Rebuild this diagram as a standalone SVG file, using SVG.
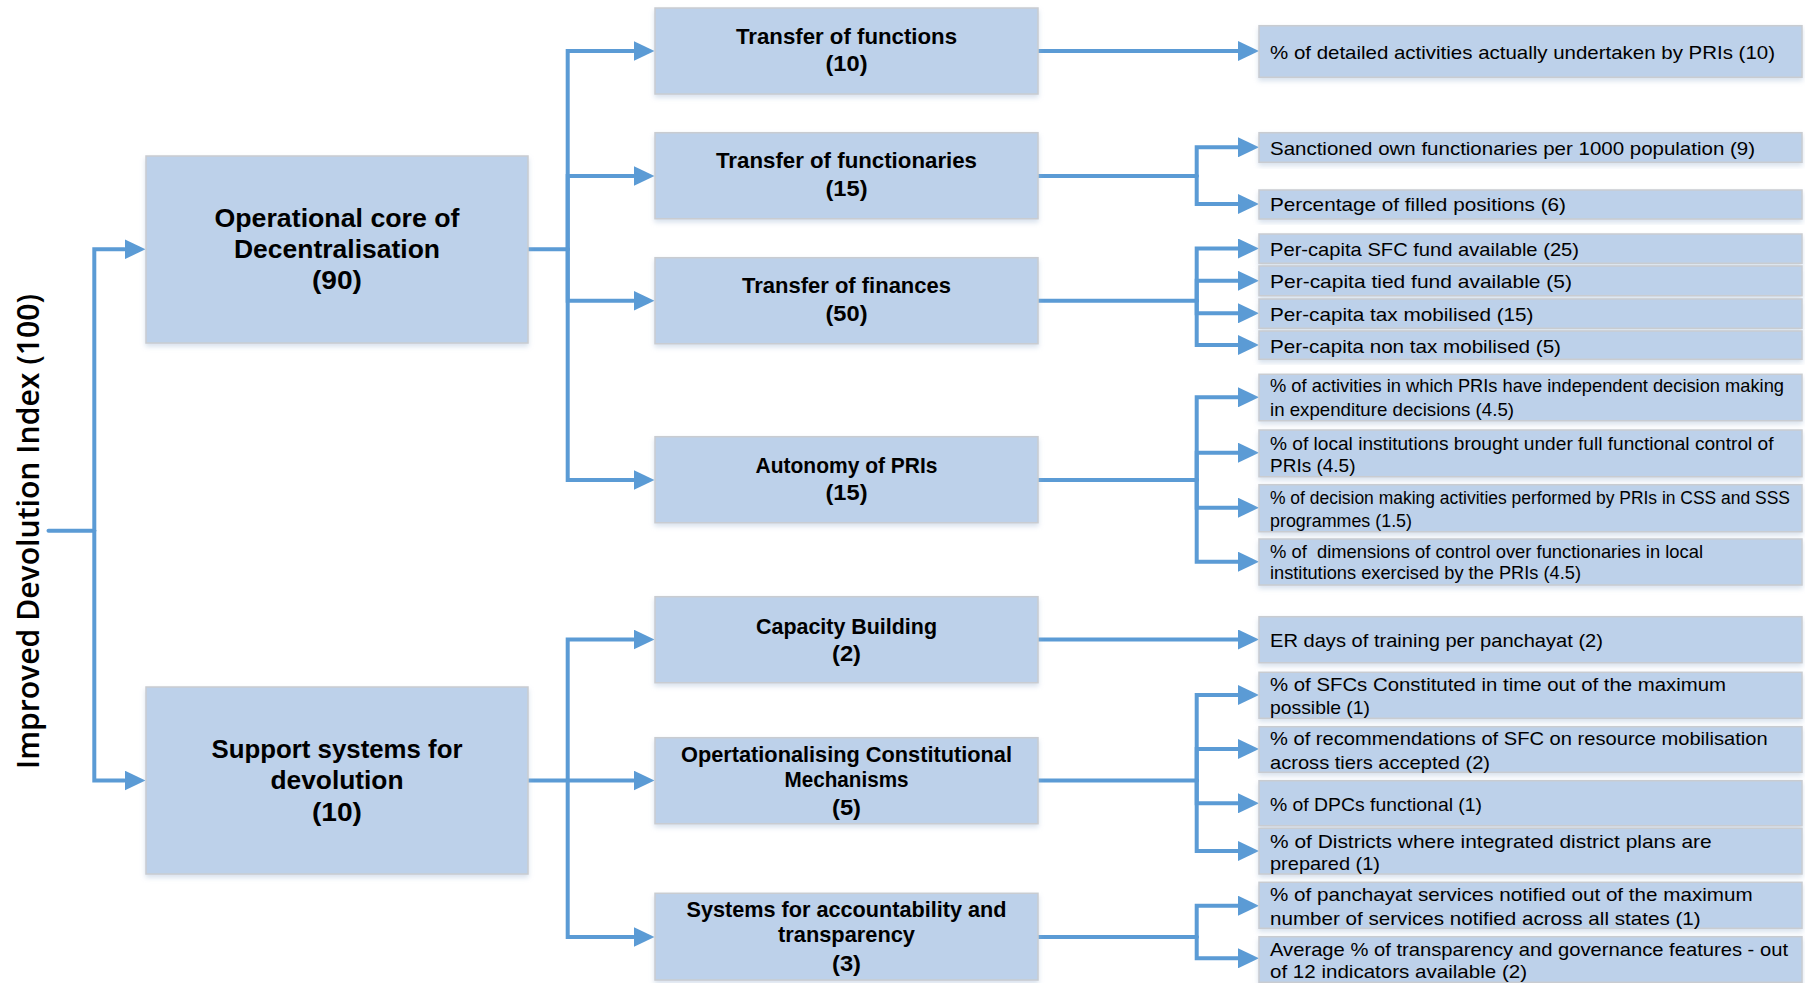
<svg xmlns="http://www.w3.org/2000/svg" width="1805" height="983" viewBox="0 0 1805 983">
<style>
.box{fill:#BDD1EA;stroke:#C9CCD1;stroke-width:1.5;filter:url(#sh)}
.t0{font-family:"Open Sans","Liberation Sans",Arial,sans-serif;font-size:31px;font-weight:600;fill:#000;text-anchor:middle}
.t1{font-family:"Liberation Sans",Arial,sans-serif;font-size:26.5px;font-weight:bold;fill:#000;text-anchor:middle}
.t2{font-family:"Liberation Sans",Arial,sans-serif;font-size:21.5px;font-weight:bold;fill:#000;text-anchor:middle}
.t3{font-family:"Liberation Sans",Arial,sans-serif;font-size:19px;fill:#000}
.c{fill:none;stroke:#5B9BD5;stroke-width:4;stroke-linecap:round}
.a{marker-end:url(#ah)}
</style>
<defs>
<filter id="sh" x="-5%" y="-10%" width="110%" height="130%">
<feDropShadow dx="0" dy="3" stdDeviation="2.5" flood-color="#A8BDD8" flood-opacity="0.45"/>
</filter>
<marker id="ah" markerUnits="userSpaceOnUse" markerWidth="22" markerHeight="20" refX="0" refY="10" orient="auto">
<path d="M0,0 L21,10 L0,20 Z" fill="#5B9BD5"/>
</marker>
</defs>
<rect width="1805" height="983" fill="#fff"/>

<g id="root">
<text class="t0" transform="translate(38.5,531.5) rotate(-90)" textLength="475" lengthAdjust="spacingAndGlyphs">Improved Devolution Index (100)</text>
</g>

<g id="connectors">
<path class="c" d="M48.5,530.7 H94.3"/>
<path class="c a" d="M94.3,530.7 V249.3 H124.5"/>
<path class="c a" d="M94.3,530.7 V780.5 H124.5"/>

<path class="c" d="M528,249.3 H567.7"/>
<path class="c a" d="M567.7,249.3 V51 H633.5"/>
<path class="c a" d="M567.7,249.3 V176 H633.5"/>
<path class="c a" d="M567.7,249.3 V300.8 H633.5"/>
<path class="c a" d="M567.7,249.3 V480 H633.5"/>

<path class="c" d="M528,780.5 H567.7"/>
<path class="c a" d="M567.7,780.5 V639.5 H633.5"/>
<path class="c a" d="M567.7,780.5 H633.5"/>
<path class="c a" d="M567.7,780.5 V937 H633.5"/>

<path class="c a" d="M1038,51 H1238"/>

<path class="c" d="M1038,176 H1196.7"/>
<path class="c a" d="M1196.7,176 V147.3 H1238"/>
<path class="c a" d="M1196.7,176 V204 H1238"/>

<path class="c" d="M1038,300.8 H1196.7"/>
<path class="c a" d="M1196.7,300.8 V248.5 H1238"/>
<path class="c a" d="M1196.7,300.8 V280.8 H1238"/>
<path class="c a" d="M1196.7,300.8 V313.3 H1238"/>
<path class="c a" d="M1196.7,300.8 V345 H1238"/>

<path class="c" d="M1038,480 H1196.7"/>
<path class="c a" d="M1196.7,480 V397.3 H1238"/>
<path class="c a" d="M1196.7,480 V452.7 H1238"/>
<path class="c a" d="M1196.7,480 V507.7 H1238"/>
<path class="c a" d="M1196.7,480 V561.7 H1238"/>

<path class="c a" d="M1038,639.5 H1238"/>

<path class="c" d="M1038,780.5 H1196.7"/>
<path class="c a" d="M1196.7,780.5 V695 H1238"/>
<path class="c a" d="M1196.7,780.5 V749 H1238"/>
<path class="c a" d="M1196.7,780.5 V803.3 H1238"/>
<path class="c a" d="M1196.7,780.5 V851 H1238"/>

<path class="c" d="M1038,937 H1196.7"/>
<path class="c a" d="M1196.7,937 V905.7 H1238"/>
<path class="c a" d="M1196.7,937 V958.3 H1238"/>
</g>

<g id="n-core">
<rect class="box" x="146" y="156" width="382" height="187"/>
<text class="t1" x="337" y="227" textLength="245" lengthAdjust="spacingAndGlyphs">Operational core of</text>
<text class="t1" x="337" y="258.3" textLength="206" lengthAdjust="spacingAndGlyphs">Decentralisation</text>
<text class="t1" x="337" y="289" textLength="50" lengthAdjust="spacingAndGlyphs">(90)</text>
</g>

<g id="n-support">
<rect class="box" x="146" y="687" width="382" height="187"/>
<text class="t1" x="337" y="758.3" textLength="251" lengthAdjust="spacingAndGlyphs">Support systems for</text>
<text class="t1" x="337" y="789.3" textLength="133" lengthAdjust="spacingAndGlyphs">devolution</text>
<text class="t1" x="337" y="820.5" textLength="50" lengthAdjust="spacingAndGlyphs">(10)</text>
</g>

<g id="n-functions">
<rect class="box" x="655" y="8" width="383" height="86"/>
<text class="t2" x="846.5" y="44" textLength="221" lengthAdjust="spacingAndGlyphs">Transfer of functions</text>
<text class="t2" x="846.5" y="71" textLength="42" lengthAdjust="spacingAndGlyphs">(10)</text>
</g>

<g id="n-functionaries">
<rect class="box" x="655" y="132.7" width="383" height="86"/>
<text class="t2" x="846.5" y="168.3" textLength="261" lengthAdjust="spacingAndGlyphs">Transfer of functionaries</text>
<text class="t2" x="846.5" y="195.5" textLength="42" lengthAdjust="spacingAndGlyphs">(15)</text>
</g>

<g id="n-finances">
<rect class="box" x="655" y="257.7" width="383" height="86"/>
<text class="t2" x="846.5" y="293.3" textLength="209" lengthAdjust="spacingAndGlyphs">Transfer of finances</text>
<text class="t2" x="846.5" y="320.5" textLength="42" lengthAdjust="spacingAndGlyphs">(50)</text>
</g>

<g id="n-autonomy">
<rect class="box" x="655" y="436.7" width="383" height="86"/>
<text class="t2" x="846.5" y="473.3" textLength="182" lengthAdjust="spacingAndGlyphs">Autonomy of PRIs</text>
<text class="t2" x="846.5" y="500.3" textLength="42" lengthAdjust="spacingAndGlyphs">(15)</text>
</g>

<g id="n-capacity">
<rect class="box" x="655" y="596.7" width="383" height="86"/>
<text class="t2" x="846.5" y="634.3" textLength="181" lengthAdjust="spacingAndGlyphs">Capacity Building</text>
<text class="t2" x="846.5" y="661.3" textLength="29" lengthAdjust="spacingAndGlyphs">(2)</text>
</g>

<g id="n-constitutional">
<rect class="box" x="655" y="737.7" width="383" height="86"/>
<text class="t2" x="846.5" y="761.7" textLength="331" lengthAdjust="spacingAndGlyphs">Opertationalising Constitutional</text>
<text class="t2" x="846.5" y="786.7" textLength="124" lengthAdjust="spacingAndGlyphs">Mechanisms</text>
<text class="t2" x="846.5" y="814.5" textLength="29" lengthAdjust="spacingAndGlyphs">(5)</text>
</g>

<g id="n-accountability">
<rect class="box" x="655" y="893.3" width="383" height="86.7"/>
<text class="t2" x="846.5" y="917.3" textLength="320" lengthAdjust="spacingAndGlyphs">Systems for accountability and</text>
<text class="t2" x="846.5" y="941.5" textLength="137" lengthAdjust="spacingAndGlyphs">transparency</text>
<text class="t2" x="846.5" y="971" textLength="29" lengthAdjust="spacingAndGlyphs">(3)</text>
</g>

<g id="i-1">
<rect class="box" x="1259" y="25.7" width="543" height="51.6"/>
<text class="t3" x="1270" y="58.5" textLength="505" lengthAdjust="spacingAndGlyphs">% of detailed activities actually undertaken by PRIs (10)</text>
</g>
<g id="i-2">
<rect class="box" x="1259" y="132.7" width="543" height="29.6"/>
<text class="t3" x="1270" y="154.5" textLength="485" lengthAdjust="spacingAndGlyphs">Sanctioned own functionaries per 1000 population (9)</text>
</g>
<g id="i-3">
<rect class="box" x="1259" y="190" width="543" height="29"/>
<text class="t3" x="1270" y="211.3" textLength="296" lengthAdjust="spacingAndGlyphs">Percentage of filled positions (6)</text>
</g>
<g id="i-4">
<rect class="box" x="1259" y="234" width="543" height="29.3"/>
<text class="t3" x="1270" y="255.5" textLength="309" lengthAdjust="spacingAndGlyphs">Per-capita SFC fund available (25)</text>
</g>
<g id="i-5">
<rect class="box" x="1259" y="266" width="543" height="29.7"/>
<text class="t3" x="1270" y="288" textLength="302" lengthAdjust="spacingAndGlyphs">Per-capita tied fund available (5)</text>
</g>
<g id="i-6">
<rect class="box" x="1259" y="299" width="543" height="29.3"/>
<text class="t3" x="1270" y="320.7" textLength="263.5" lengthAdjust="spacingAndGlyphs">Per-capita tax mobilised (15)</text>
</g>
<g id="i-7">
<rect class="box" x="1259" y="331" width="543" height="28.3"/>
<text class="t3" x="1270" y="353" textLength="291" lengthAdjust="spacingAndGlyphs">Per-capita non tax mobilised (5)</text>
</g>
<g id="i-8">
<rect class="box" x="1259" y="374.3" width="543" height="46.4"/>
<text class="t3" x="1270" y="392.3" textLength="514" lengthAdjust="spacingAndGlyphs" style="font-size:18.5px">% of activities in which PRIs have independent decision making</text>
<text class="t3" x="1270" y="415.7" textLength="244" lengthAdjust="spacingAndGlyphs">in expenditure decisions (4.5)</text>
</g>
<g id="i-9">
<rect class="box" x="1259" y="430" width="543" height="46.7"/>
<text class="t3" x="1270" y="449.5" textLength="503.5" lengthAdjust="spacingAndGlyphs">% of local institutions brought under full functional control of</text>
<text class="t3" x="1270" y="472">PRIs (4.5)</text>
</g>
<g id="i-10">
<rect class="box" x="1259" y="484.7" width="543" height="47"/>
<text class="t3" x="1270" y="504" textLength="520" lengthAdjust="spacingAndGlyphs" style="font-size:17.5px">% of decision making activities performed by PRIs in CSS and SSS</text>
<text class="t3" x="1270" y="526.5" textLength="142" lengthAdjust="spacingAndGlyphs">programmes (1.5)</text>
</g>
<g id="i-11">
<rect class="box" x="1259" y="539" width="543" height="46"/>
<text class="t3" x="1270" y="557.5" textLength="433" lengthAdjust="spacingAndGlyphs" xml:space="preserve">% of  dimensions of control over functionaries in local</text>
<text class="t3" x="1270" y="579.3" textLength="311" lengthAdjust="spacingAndGlyphs">institutions exercised by the PRIs (4.5)</text>
</g>
<g id="i-12">
<rect class="box" x="1259" y="616.7" width="543" height="46"/>
<text class="t3" x="1270" y="646.5" textLength="333" lengthAdjust="spacingAndGlyphs">ER days of training per panchayat (2)</text>
</g>
<g id="i-13">
<rect class="box" x="1259" y="672.3" width="543" height="46"/>
<text class="t3" x="1270" y="691" textLength="456" lengthAdjust="spacingAndGlyphs">% of SFCs Constituted in time out of the maximum</text>
<text class="t3" x="1270" y="714" textLength="100" lengthAdjust="spacingAndGlyphs">possible (1)</text>
</g>
<g id="i-14">
<rect class="box" x="1259" y="726.7" width="543" height="45.6"/>
<text class="t3" x="1270" y="745" textLength="497.7" lengthAdjust="spacingAndGlyphs">% of recommendations of SFC on resource mobilisation</text>
<text class="t3" x="1270" y="768.5" textLength="220" lengthAdjust="spacingAndGlyphs">across tiers accepted (2)</text>
</g>
<g id="i-15">
<rect class="box" x="1259" y="780.7" width="543" height="45"/>
<text class="t3" x="1270" y="810.5" textLength="212" lengthAdjust="spacingAndGlyphs">% of DPCs functional (1)</text>
</g>
<g id="i-16">
<rect class="box" x="1259" y="828.3" width="543" height="45.7"/>
<text class="t3" x="1270" y="847.5" textLength="441.7" lengthAdjust="spacingAndGlyphs">% of Districts where integrated district plans are</text>
<text class="t3" x="1270" y="870" textLength="110" lengthAdjust="spacingAndGlyphs">prepared (1)</text>
</g>
<g id="i-17">
<rect class="box" x="1259" y="882.3" width="543" height="46"/>
<text class="t3" x="1270" y="901.3" textLength="482.6" lengthAdjust="spacingAndGlyphs">% of panchayat services notified out of the maximum</text>
<text class="t3" x="1270" y="924.5" textLength="430.6" lengthAdjust="spacingAndGlyphs">number of services notified across all states (1)</text>
</g>
<g id="i-18">
<rect class="box" x="1259" y="936.7" width="543" height="45.6"/>
<text class="t3" x="1270" y="955.5" textLength="518" lengthAdjust="spacingAndGlyphs">Average % of transparency and governance features - out</text>
<text class="t3" x="1270" y="978" textLength="257" lengthAdjust="spacingAndGlyphs">of 12 indicators available (2)</text>
</g>
</svg>
